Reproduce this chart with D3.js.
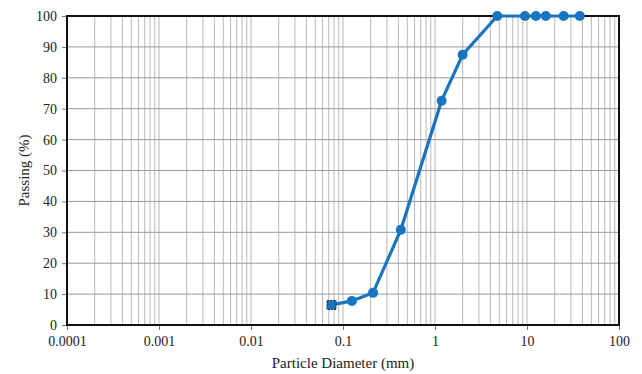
<!DOCTYPE html>
<html lang="en">
<head>
<meta charset="UTF-8">
<title>grading curve</title>
<script src="https://d3js.org/d3.v7.min.js"></script>
<style>
	body { margin: 0; background: #fff; }
	svg { display: block; background: #fff; font-family: "Liberation Serif", "Times New Roman", serif; }
	.grid line { stroke: #b8b8b8; stroke-width: 1; }
	.axis text { font-size: 14px; fill: #222; font-family: "Liberation Serif", "Times New Roman", serif; }
	.axis path { display: none; }
	.axis line { stroke: #777; }
	.title { font-size: 15px; fill: #222; }
</style>
</head>
<body>
<div id="viz"></div>
<script>
	// sieve sizes (mm) and percent passing
	var diameter = [0.075, 0.125, 0.212, 0.425, 1.18, 2, 4.75, 9.5, 12.5, 16, 25, 37.5];
	var passing = [6.5, 7.8, 10.4, 30.8, 72.6, 87.5, 100, 100, 100, 100, 100, 100];
	var xTicks = [0.0001, 0.001, 0.01, 0.1, 1, 10, 100];
	var yTicks = [0, 10, 20, 30, 40, 50, 60, 70, 80, 90, 100];

	var margin = {top: 16, left: 67, bottom: 49, right: 23};
	var width = 642 - margin.left - margin.right;
	var height = 374 - margin.top - margin.bottom;

	var svg = d3.select('#viz').append('svg')
		.attr('width', 642)
		.attr('height', 374);

	var g = svg.append('g')
		.attr('transform', 'translate(' + margin.left + ',' + margin.top + ')');

	var x = d3.scaleLog().domain([0.0001, 100]).range([0, width]);
	var y = d3.scaleLinear().domain([0, 100]).range([height, 0]);

	// minor log grid 1..9 per decade
	var minor = [];
	for (var e = -4; e < 2; e++) {
		for (var m = 1; m < 10; m++) minor.push(m * Math.pow(10, e));
	}
	g.append('g').attr('class', 'grid')
		.selectAll('line').data(minor).enter().append('line')
		.attr('x1', function (d) { return x(d); })
		.attr('x2', function (d) { return x(d); })
		.attr('y1', 0).attr('y2', height);

	g.append('g').attr('class', 'grid')
		.selectAll('line').data(yTicks).enter().append('line')
		.attr('x1', 0).attr('x2', width)
		.attr('y1', function (d) { return y(d); })
		.attr('y2', function (d) { return y(d); })
		.style('stroke', '#999');

	g.append('g').attr('class', 'axis')
		.attr('transform', 'translate(0,' + height + ')')
		.call(d3.axisBottom(x).tickValues(xTicks).tickFormat(function (d) { return String(+d.toFixed(4)); }).tickSize(5).tickPadding(6))
		.attr('font-family', null).attr('font-size', null);

	g.append('g').attr('class', 'axis')
		.call(d3.axisLeft(y).tickValues(yTicks).tickSize(5).tickPadding(5))
		.attr('font-family', null).attr('font-size', null);

	g.append('rect')
		.attr('width', width).attr('height', height)
		.style('fill', 'none').style('stroke', '#111').style('stroke-width', 2);

	var line = d3.line()
		.x(function (d, i) { return x(diameter[i]); })
		.y(function (d) { return y(d); });

	g.append('path')
		.datum(passing)
		.attr('d', line)
		.style('fill', 'none')
		.style('stroke', '#1a75c0')
		.style('stroke-width', 3.2);

	g.selectAll('circle.pt')
		.data(passing.slice(1)).enter().append('circle')
		.attr('class', 'pt')
		.attr('cx', function (d, i) { return x(diameter[i + 1]); })
		.attr('cy', function (d) { return y(d); })
		.attr('r', 5)
		.style('fill', '#1a75c0');

	// first point is drawn as a selected square
	g.append('rect')
		.attr('x', x(diameter[0]) - 4.5)
		.attr('y', y(passing[0]) - 4.5)
		.attr('width', 9).attr('height', 9)
		.style('fill', '#1a75c0')
		.style('stroke', '#222')
		.style('stroke-width', 1)
		.style('stroke-dasharray', '2,1');

	svg.append('text').attr('class', 'title')
		.attr('x', margin.left + width / 2)
		.attr('y', 368)
		.attr('text-anchor', 'middle')
		.text('Particle Diameter (mm)');

	svg.append('text').attr('class', 'title')
		.attr('transform', 'translate(29,' + (margin.top + height / 2) + ') rotate(-90)')
		.attr('text-anchor', 'middle')
		.text('Passing (%)');
</script>
</body>
</html>
